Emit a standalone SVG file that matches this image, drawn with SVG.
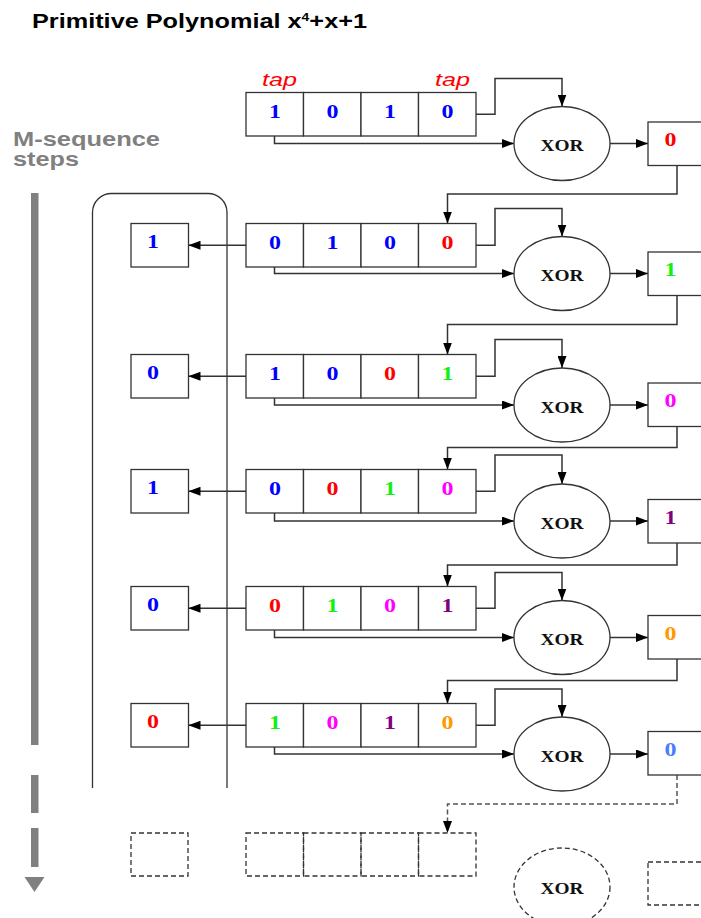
<svg xmlns="http://www.w3.org/2000/svg" width="701" height="918" viewBox="0 0 701 918">
<style>
.bx{fill:#fff;stroke:#333;stroke-width:1.3}
.dbx{fill:none;stroke:#333;stroke-width:1.3;stroke-dasharray:5,3}
.ln{fill:none;stroke:#333;stroke-width:1.5}
.ar{marker-end:url(#ah)}
.dl{fill:none;stroke:#555;stroke-width:1.5;stroke-dasharray:5,3}
.d{font-family:"Liberation Serif","Times New Roman",serif;font-weight:bold;font-size:18px;text-anchor:middle}
.x{font-family:"Liberation Serif","Times New Roman",serif;font-weight:bold;font-size:16px;text-anchor:middle;fill:#111}
.b{fill:#0000ff}.r{fill:#ff0000}.g{fill:#11f011}.m{fill:#ff00ff}.p{fill:#800080}.o{fill:#ff9900}.lb{fill:#4a7cff}
.t{font-family:"Liberation Sans",Arial,sans-serif;font-weight:bold;font-size:20px}
.tap{font-family:"Liberation Sans",Arial,sans-serif;font-style:italic;font-size:18px;fill:#ff0000}
</style>
<defs>
<marker id="ah" markerWidth="12" markerHeight="9" refX="12" refY="4.5" orient="auto" markerUnits="userSpaceOnUse"><path d="M0,0 L12,4.5 L0,9 Z" fill="#000"/></marker>
<marker id="ahd" markerWidth="12" markerHeight="9" refX="12" refY="4.5" orient="auto" markerUnits="userSpaceOnUse"><path d="M0,0 L12,4.5 L0,9 Z" fill="#000"/></marker>
</defs>

<g id="title">
<text class="t" x="32" y="28" fill="#000" textLength="335" lengthAdjust="spacingAndGlyphs">Primitive Polynomial x<tspan dy="-7" font-size="11">4</tspan><tspan dy="7">+x+1</tspan></text>
</g>
<g id="steps-label">
<text class="t" x="13" y="146" fill="#808080" textLength="147" lengthAdjust="spacingAndGlyphs">M-sequence</text>
<text class="t" x="13" y="166" fill="#808080" textLength="66" lengthAdjust="spacingAndGlyphs">steps</text>
</g>
<g id="steps-arrow" fill="#808080">
<rect x="31" y="193" width="7.5" height="552"/>
<rect x="31" y="775" width="7.5" height="38"/>
<rect x="31" y="828" width="7.5" height="39"/>
<polygon points="24.5,877 44.5,877 34.5,892"/>
</g>
<g id="output-bracket">
<path class="bx" style="fill:none" d="M92.5,788 V212.5 A19,19 0 0 1 111.5,193.5 H208 A19,19 0 0 1 227,212.5 V788"/>
</g>
<g id="taps">
<text class="tap" x="262" y="86" textLength="35" lengthAdjust="spacingAndGlyphs">tap</text>
<text class="tap" x="435" y="86" textLength="35" lengthAdjust="spacingAndGlyphs">tap</text>
</g>

<g id="connectors">
<path class="ln ar" d="M476,114.25 H495 V78.5 H562 V106.5"/>
<path class="ln ar" d="M274.5,136 V143.5 H514"/>
<path class="ln ar" d="M610,143.5 H648"/>
<path class="ln ar" d="M677,165.5 V194 H447.5 V223.5"/>
<path class="ln ar" d="M246,245.25 H188.5"/>
<path class="ln ar" d="M476,245.25 H495 V208.5 H562 V236.5"/>
<path class="ln ar" d="M274.5,267 V273.5 H514"/>
<path class="ln ar" d="M610,273.5 H648"/>
<path class="ln ar" d="M677,295.5 V324.5 H447.5 V354.5"/>
<path class="ln ar" d="M246,376.25 H188.5"/>
<path class="ln ar" d="M476,376.25 H495 V339.5 H562 V368"/>
<path class="ln ar" d="M274.5,398 V405 H514"/>
<path class="ln ar" d="M610,405 H648"/>
<path class="ln ar" d="M677,426.5 V447.5 H447.5 V469.5"/>
<path class="ln ar" d="M246,491.25 H188.5"/>
<path class="ln ar" d="M476,491.25 H495 V455 H562 V484"/>
<path class="ln ar" d="M274.5,513 V521 H514"/>
<path class="ln ar" d="M610,521 H648"/>
<path class="ln ar" d="M677,543 V565 H447.5 V586.5"/>
<path class="ln ar" d="M246,608.25 H188.5"/>
<path class="ln ar" d="M476,608.25 H495 V572.5 H562 V600.5"/>
<path class="ln ar" d="M274.5,630 V637.5 H514"/>
<path class="ln ar" d="M610,637.5 H648"/>
<path class="ln ar" d="M677,659 V680.5 H447.5 V703.5"/>
<path class="ln ar" d="M246,725.25 H188.5"/>
<path class="ln ar" d="M476,725.25 H495 V689 H562 V717"/>
<path class="ln ar" d="M274.5,747 V754 H514"/>
<path class="ln ar" d="M610,754 H648"/>
<path class="dl" style="marker-end:url(#ahd)" d="M677,775 V804 H447.5 V833"/>
</g>

<g id="reg1">
<rect class="bx" x="246" y="92.5" width="57.5" height="43.5"/><rect class="bx" x="303.5" y="92.5" width="57.5" height="43.5"/><rect class="bx" x="361" y="92.5" width="57.5" height="43.5"/><rect class="bx" x="418.5" y="92.5" width="57.5" height="43.5"/>
<text class="d b" x="275" y="117.5" textLength="12" lengthAdjust="spacingAndGlyphs">1</text>
<text class="d b" x="332.5" y="117.5" textLength="12" lengthAdjust="spacingAndGlyphs">0</text>
<text class="d b" x="390" y="117.5" textLength="12" lengthAdjust="spacingAndGlyphs">1</text>
<text class="d b" x="447.5" y="117.5" textLength="12" lengthAdjust="spacingAndGlyphs">0</text>
</g>
<g id="xor1"><ellipse class="bx" cx="562" cy="143.5" rx="48" ry="37"/><text class="x" x="562" y="151" textLength="43" lengthAdjust="spacingAndGlyphs">XOR</text></g>
<g id="out1"><rect class="bx" x="648" y="122" width="60" height="43.5"/><text class="d r" x="670.5" y="146" textLength="12" lengthAdjust="spacingAndGlyphs">0</text></g>

<g id="left2"><rect class="bx" x="131" y="223.5" width="57.5" height="43.5"/><text class="d b" x="153" y="248" textLength="12" lengthAdjust="spacingAndGlyphs">1</text></g>
<g id="reg2">
<rect class="bx" x="246" y="223.5" width="57.5" height="43.5"/><rect class="bx" x="303.5" y="223.5" width="57.5" height="43.5"/><rect class="bx" x="361" y="223.5" width="57.5" height="43.5"/><rect class="bx" x="418.5" y="223.5" width="57.5" height="43.5"/>
<text class="d b" x="275" y="248.5" textLength="12" lengthAdjust="spacingAndGlyphs">0</text>
<text class="d b" x="332.5" y="248.5" textLength="12" lengthAdjust="spacingAndGlyphs">1</text>
<text class="d b" x="390" y="248.5" textLength="12" lengthAdjust="spacingAndGlyphs">0</text>
<text class="d r" x="447.5" y="248.5" textLength="12" lengthAdjust="spacingAndGlyphs">0</text>
</g>
<g id="xor2"><ellipse class="bx" cx="562" cy="273.5" rx="48" ry="37"/><text class="x" x="562" y="281" textLength="43" lengthAdjust="spacingAndGlyphs">XOR</text></g>
<g id="out2"><rect class="bx" x="648" y="252" width="60" height="43.5"/><text class="d g" x="670.5" y="276" textLength="12" lengthAdjust="spacingAndGlyphs">1</text></g>

<g id="left3"><rect class="bx" x="131" y="354.5" width="57.5" height="43.5"/><text class="d b" x="153" y="379" textLength="12" lengthAdjust="spacingAndGlyphs">0</text></g>
<g id="reg3">
<rect class="bx" x="246" y="354.5" width="57.5" height="43.5"/><rect class="bx" x="303.5" y="354.5" width="57.5" height="43.5"/><rect class="bx" x="361" y="354.5" width="57.5" height="43.5"/><rect class="bx" x="418.5" y="354.5" width="57.5" height="43.5"/>
<text class="d b" x="275" y="379.5" textLength="12" lengthAdjust="spacingAndGlyphs">1</text>
<text class="d b" x="332.5" y="379.5" textLength="12" lengthAdjust="spacingAndGlyphs">0</text>
<text class="d r" x="390" y="379.5" textLength="12" lengthAdjust="spacingAndGlyphs">0</text>
<text class="d g" x="447.5" y="379.5" textLength="12" lengthAdjust="spacingAndGlyphs">1</text>
</g>
<g id="xor3"><ellipse class="bx" cx="562" cy="405" rx="48" ry="37"/><text class="x" x="562" y="412.5" textLength="43" lengthAdjust="spacingAndGlyphs">XOR</text></g>
<g id="out3"><rect class="bx" x="648" y="383" width="60" height="43.5"/><text class="d m" x="670.5" y="407" textLength="12" lengthAdjust="spacingAndGlyphs">0</text></g>

<g id="left4"><rect class="bx" x="131" y="469.5" width="57.5" height="43.5"/><text class="d b" x="153" y="494" textLength="12" lengthAdjust="spacingAndGlyphs">1</text></g>
<g id="reg4">
<rect class="bx" x="246" y="469.5" width="57.5" height="43.5"/><rect class="bx" x="303.5" y="469.5" width="57.5" height="43.5"/><rect class="bx" x="361" y="469.5" width="57.5" height="43.5"/><rect class="bx" x="418.5" y="469.5" width="57.5" height="43.5"/>
<text class="d b" x="275" y="494.5" textLength="12" lengthAdjust="spacingAndGlyphs">0</text>
<text class="d r" x="332.5" y="494.5" textLength="12" lengthAdjust="spacingAndGlyphs">0</text>
<text class="d g" x="390" y="494.5" textLength="12" lengthAdjust="spacingAndGlyphs">1</text>
<text class="d m" x="447.5" y="494.5" textLength="12" lengthAdjust="spacingAndGlyphs">0</text>
</g>
<g id="xor4"><ellipse class="bx" cx="562" cy="521" rx="48" ry="37"/><text class="x" x="562" y="528.5" textLength="43" lengthAdjust="spacingAndGlyphs">XOR</text></g>
<g id="out4"><rect class="bx" x="648" y="499.5" width="60" height="43.5"/><text class="d p" x="670.5" y="523.5" textLength="12" lengthAdjust="spacingAndGlyphs">1</text></g>

<g id="left5"><rect class="bx" x="131" y="586.5" width="57.5" height="43.5"/><text class="d b" x="153" y="611" textLength="12" lengthAdjust="spacingAndGlyphs">0</text></g>
<g id="reg5">
<rect class="bx" x="246" y="586.5" width="57.5" height="43.5"/><rect class="bx" x="303.5" y="586.5" width="57.5" height="43.5"/><rect class="bx" x="361" y="586.5" width="57.5" height="43.5"/><rect class="bx" x="418.5" y="586.5" width="57.5" height="43.5"/>
<text class="d r" x="275" y="611.5" textLength="12" lengthAdjust="spacingAndGlyphs">0</text>
<text class="d g" x="332.5" y="611.5" textLength="12" lengthAdjust="spacingAndGlyphs">1</text>
<text class="d m" x="390" y="611.5" textLength="12" lengthAdjust="spacingAndGlyphs">0</text>
<text class="d p" x="447.5" y="611.5" textLength="12" lengthAdjust="spacingAndGlyphs">1</text>
</g>
<g id="xor5"><ellipse class="bx" cx="562" cy="637.5" rx="48" ry="37"/><text class="x" x="562" y="645" textLength="43" lengthAdjust="spacingAndGlyphs">XOR</text></g>
<g id="out5"><rect class="bx" x="648" y="615.5" width="60" height="43.5"/><text class="d o" x="670.5" y="639.5" textLength="12" lengthAdjust="spacingAndGlyphs">0</text></g>

<g id="left6"><rect class="bx" x="131" y="703.5" width="57.5" height="43.5"/><text class="d r" x="153" y="728" textLength="12" lengthAdjust="spacingAndGlyphs">0</text></g>
<g id="reg6">
<rect class="bx" x="246" y="703.5" width="57.5" height="43.5"/><rect class="bx" x="303.5" y="703.5" width="57.5" height="43.5"/><rect class="bx" x="361" y="703.5" width="57.5" height="43.5"/><rect class="bx" x="418.5" y="703.5" width="57.5" height="43.5"/>
<text class="d g" x="275" y="728.5" textLength="12" lengthAdjust="spacingAndGlyphs">1</text>
<text class="d m" x="332.5" y="728.5" textLength="12" lengthAdjust="spacingAndGlyphs">0</text>
<text class="d p" x="390" y="728.5" textLength="12" lengthAdjust="spacingAndGlyphs">1</text>
<text class="d o" x="447.5" y="728.5" textLength="12" lengthAdjust="spacingAndGlyphs">0</text>
</g>
<g id="xor6"><ellipse class="bx" cx="562" cy="754" rx="48" ry="37"/><text class="x" x="562" y="761.5" textLength="43" lengthAdjust="spacingAndGlyphs">XOR</text></g>
<g id="out6"><rect class="bx" x="648" y="731.5" width="60" height="43.5"/><text class="d lb" x="670.5" y="755.5" textLength="12" lengthAdjust="spacingAndGlyphs">0</text></g>

<g id="left7"><rect class="dbx" x="131" y="833" width="57" height="43"/></g>
<g id="reg7">
<rect class="dbx" x="246" y="833" width="57.5" height="43"/><rect class="dbx" x="303.5" y="833" width="57.5" height="43"/><rect class="dbx" x="361" y="833" width="57.5" height="43"/><rect class="dbx" x="418.5" y="833" width="57.5" height="43"/>
</g>
<g id="xor7"><ellipse class="dbx" cx="562" cy="887" rx="48" ry="39"/><text class="x" x="562" y="893.5" textLength="43" lengthAdjust="spacingAndGlyphs">XOR</text></g>
<g id="out7"><rect class="dbx" x="648" y="862" width="60" height="43"/></g>
</svg>
